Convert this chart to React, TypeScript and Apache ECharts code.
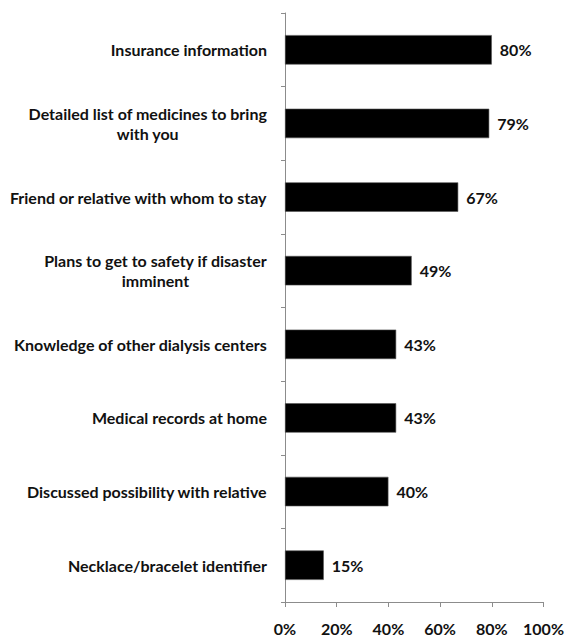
import React, { useEffect, useRef } from "react";
import * as echarts from "echarts";

const categories = [
  "Insurance information",
  "Detailed list of medicines to bring\nwith you",
  "Friend or relative with whom to stay",
  "Plans to get to safety if disaster\nimminent",
  "Knowledge of other dialysis centers",
  "Medical records at home",
  "Discussed possibility with relative",
  "Necklace/bracelet identifier",
];
const values = [80, 79, 67, 49, 43, 43, 40, 15];
const xMin = 0;
const xMax = 100;
const xStep = 20;

const FONT = "Lato, 'Open Sans', sans-serif";

export default function App() {
  const ref = useRef<HTMLDivElement>(null);
  useEffect(() => {
    if (!ref.current) return;
    const chart = echarts.init(ref.current, null, { renderer: "svg" });
    const labelStyle = {
      fontFamily: FONT,
      fontWeight: "bold" as const,
      fontSize: 16,
      color: "#111",
    };
    chart.setOption({
      animation: false,
      backgroundColor: "#ffffff",
      grid: { left: 285, right: 21, top: 13, bottom: 36, containLabel: false },
      xAxis: {
        type: "value",
        min: xMin,
        max: xMax,
        interval: xStep,
        axisLine: { show: true, lineStyle: { color: "#8c8c8c", width: 1 } },
        axisTick: { show: true, length: 5, lineStyle: { color: "#8c8c8c" } },
        splitLine: { show: false },
        axisLabel: {
          ...labelStyle,
          margin: 18,
          formatter: "{value}%",
        },
      },
      yAxis: {
        type: "category",
        inverse: true,
        data: categories,
        axisLine: { show: true, lineStyle: { color: "#8c8c8c", width: 1 } },
        axisTick: { show: true, length: 4, lineStyle: { color: "#8c8c8c" } },
        axisLabel: {
          ...labelStyle,
          margin: 18,
          lineHeight: 20,
          formatter: (v: string) =>
            v
              .split("\n")
              .map((s) => `{a|${s}}`)
              .join("\n"),
          rich: {
            a: { ...labelStyle, align: "center", lineHeight: 20 },
          },
        },
      },
      series: [
        {
          type: "bar",
          data: values,
          barWidth: "40%",
          itemStyle: { color: "#000", borderColor: "#555", borderWidth: 0.6 },
          label: {
            show: true,
            position: "right",
            distance: 8,
            formatter: "{c}%",
            ...labelStyle,
          },
        },
      ],
    });
    return () => chart.dispose();
  }, []);
  return (
    <div
      ref={ref}
      style={{ position: "fixed", left: 0, top: 0, width: 567, height: 638 }}
    />
  );
}
